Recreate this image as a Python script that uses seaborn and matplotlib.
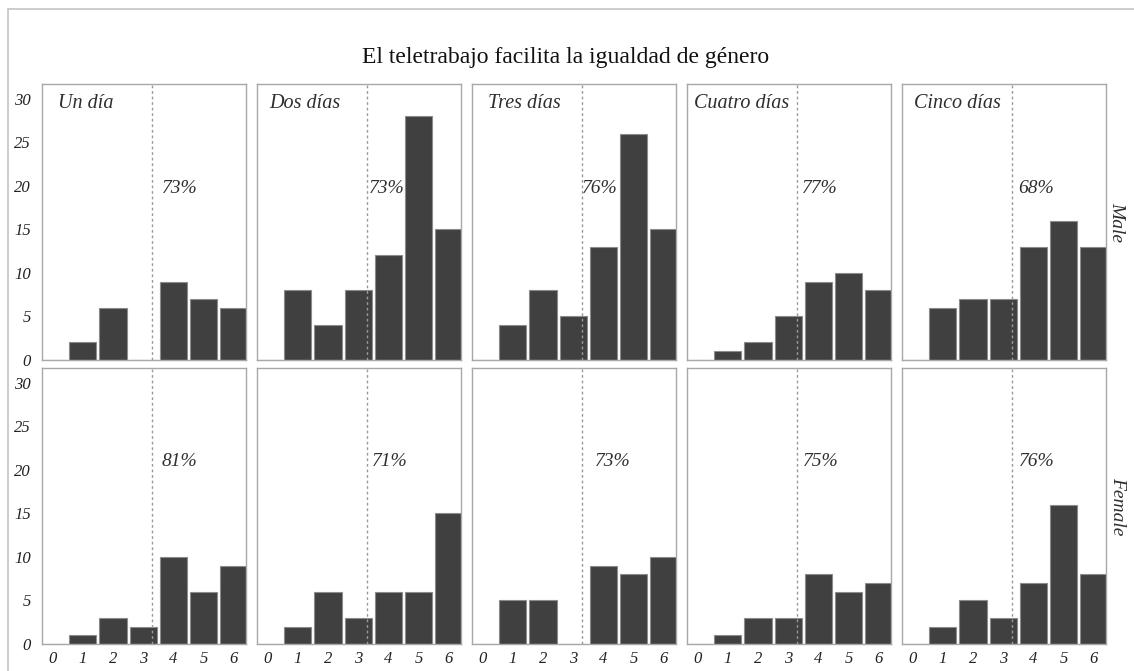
import matplotlib
matplotlib.use("Agg")
import matplotlib.pyplot as plt
import matplotlib.patches as mpatches
import seaborn as sns
import pandas as pd
import numpy as np

# Response scale and facets
scores = [0, 1, 2, 3, 4, 5, 6]
day_groups = ["Un día", "Dos días", "Tres días", "Cuatro días", "Cinco días"]
sexes = ["Male", "Female"]

# Number of respondents per score, one list per facet
male_counts = [
    [0, 2, 6, 0, 9, 7, 6],
    [0, 8, 4, 8, 12, 28, 15],
    [0, 4, 8, 5, 13, 26, 15],
    [0, 1, 2, 5, 9, 10, 8],
    [0, 6, 7, 7, 13, 16, 13],
]
female_counts = [
    [0, 1, 3, 2, 10, 6, 9],
    [0, 2, 6, 3, 6, 6, 15],
    [0, 5, 5, 0, 9, 8, 10],
    [0, 1, 3, 3, 8, 6, 7],
    [0, 2, 5, 3, 7, 16, 8],
]
y_ticks = [0, 5, 10, 15, 20, 25, 30]
title = "El teletrabajo facilita la igualdad de género"

rows = []
for sex, table in zip(sexes, [male_counts, female_counts]):
    for group, counts in zip(day_groups, table):
        for s, c in zip(scores, counts):
            rows.append({"sex": sex, "days": group, "score": s, "count": c})
df = pd.DataFrame(rows)

sns.set_theme(style="white")
plt.rcParams["font.family"] = ["Liberation Serif", "DejaVu Serif"]

W, H = 1134, 671
g = sns.FacetGrid(df, row="sex", col="days", row_order=sexes, col_order=day_groups,
                  sharex=True, sharey=True, height=2.75, aspect=0.74, despine=False)
g.map_dataframe(sns.barplot, x="score", y="count", order=scores, color="#404040",
                saturation=1, width=0.9, edgecolor="#8c8c8c", linewidth=0.8)
fig = g.figure
fig.set_size_inches(W / 100, H / 100)
fig.subplots_adjust(left=42 / W, right=1106 / W, top=1 - 84 / H, bottom=1 - 644 / H,
                    wspace=0.054, hspace=0.03)

# label placement inside each panel (pixels from left edge for the group name,
# data x for the share annotation per row)
name_offset_px = [16, 12, 16, 7, 12]
share_x = [[3.6, 3.35, 3.27, 3.45, 3.5], [3.6, 3.45, 3.7, 3.5, 3.5]]
share_y = [19.7, 21.0]
threshold = 3.28
text_color = "#2e2e2e"

for r, sex in enumerate(sexes):
    table = male_counts if r == 0 else female_counts
    for c, group in enumerate(day_groups):
        ax = g.axes[r, c]
        ax.set_title("")
        ax.set_xlabel("")
        ax.set_ylabel("")
        ax.set_xlim(-0.35, 6.4)
        ax.set_ylim(0, 31.7)
        ax.set_yticks(y_ticks)
        for sp in ax.spines.values():
            sp.set_color("#a8a8a8")
            sp.set_linewidth(1.0)
        ax.axvline(threshold, color="#9a9a9a", lw=1.0, ls=(0, (2, 2)), zorder=3)
        counts = np.array(table[c])
        share = counts[4:].sum() / counts.sum() * 100
        ax.text(share_x[r][c], share_y[r], f"{share:.0f}%", fontsize=14,
                style="italic", color=text_color, va="center", ha="left")
        if r == 0:
            pw = ax.get_position().width * W
            ax.text(name_offset_px[c] / pw, 0.93, group, transform=ax.transAxes,
                    fontsize=14.5, style="italic", color=text_color, va="center", ha="left")
        ax.tick_params(axis="both", length=0, labelsize=12, colors="#222222")
        ax.tick_params(axis="x", pad=5)
        ax.tick_params(axis="y", pad=8)
        for lab in ax.get_xticklabels() + ax.get_yticklabels():
            lab.set_style("italic")
        if r == 0:
            ax.tick_params(axis="x", labelbottom=False)
        if c != 0:
            ax.tick_params(axis="y", labelleft=False)
        if c == len(day_groups) - 1:
            ax.text(1.055, 0.5, sex, transform=ax.transAxes, rotation=270,
                    fontsize=14, style="italic", color=text_color, va="center", ha="center")

fig.text(566 / W, 1 - 57 / H, title, fontsize=17, color="#111111", ha="center", va="center")

# outer frame
fig.patches.append(mpatches.Rectangle((8 / W, -0.1), 1.2, 1 - 9 / H + 0.1,
                                      transform=fig.transFigure, fill=False,
                                      edgecolor="#c4c4c4", lw=1.2))

fig.savefig("out.png", dpi=100, facecolor="white")
